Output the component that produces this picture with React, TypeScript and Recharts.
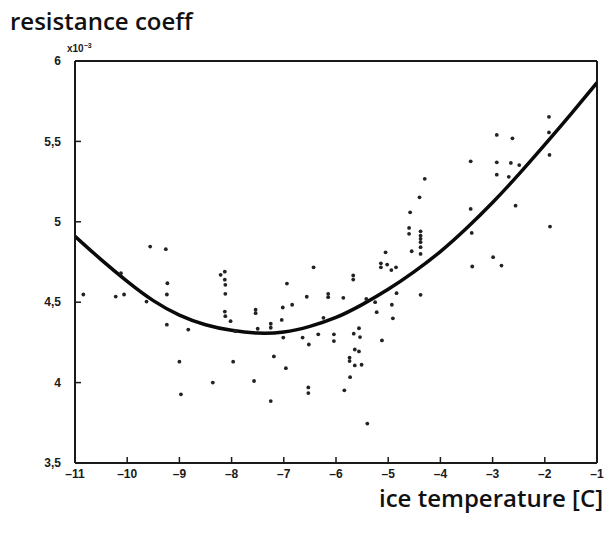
import React from "react";
import {
  ComposedChart,
  Scatter,
  Line,
  XAxis,
  YAxis,
  ReferenceLine,
} from "recharts";

const xTicks = [-11, -10, -9, -8, -7, -6, -5, -4, -3, -2, -1];
const yTicks = [3.5, 4, 4.5, 5, 5.5, 6];

const pointX = [
  -9.56, -9.26, -10.12, -10.84, -10.22, -10.06, -9.23, -9.24, -9.63, -9.24,
  -8.83, -9.0, -8.97, -8.21, -8.13, -8.13, -8.12, -8.12, -8.13, -8.12,
  -8.02, -7.54, -7.54, -7.5, -7.25, -7.25, -7.93, -6.94, -6.84, -7.02,
  -7.04, -6.56, -7.01, -6.64, -7.19, -6.96, -7.97, -8.36, -7.57, -7.25,
  -6.53, -6.53, -6.43, -6.15, -6.15, -5.86, -5.67, -5.67, -6.24, -6.52,
  -6.34, -6.04, -6.04, -5.66, -5.56, -5.54, -5.64, -5.56, -5.74, -5.74,
  -5.64, -5.51, -5.73, -5.84, -5.4, -5.12, -5.22, -5.25, -5.42, -4.93,
  -4.91, -4.84, -5.05, -5.14, -5.14, -5.02, -4.94, -4.85, -3.42, -4.3,
  -4.4, -4.58, -4.6, -4.6, -4.38, -4.38, -4.38, -4.38, -4.38, -4.38,
  -4.55, -3.42, -3.4, -3.39, -4.38, -1.92, -1.92, -1.91, -1.9, -2.92,
  -2.62, -2.92, -2.65, -2.49, -2.92, -2.69, -2.56, -2.99, -2.83,
];
const pointY = [
  4.846, 4.83, 4.68, 4.548, 4.535, 4.548, 4.618, 4.548, 4.504, 4.36,
  4.33, 4.13, 3.927, 4.67, 4.69, 4.64, 4.608, 4.552, 4.442, 4.413,
  4.382, 4.453, 4.432, 4.335, 4.366, 4.341, 4.32, 4.616, 4.484, 4.467,
  4.39, 4.534, 4.28, 4.28, 4.163, 4.09, 4.13, 4.0, 4.01, 3.885,
  3.97, 3.935, 4.717, 4.552, 4.531, 4.527, 4.666, 4.641, 4.403, 4.237,
  4.3, 4.3, 4.258, 4.304, 4.338, 4.283, 4.206, 4.194, 4.155, 4.134,
  4.107, 4.111, 4.034, 3.952, 3.745, 4.262, 4.438, 4.5, 4.52, 4.484,
  4.4, 4.556, 4.81, 4.742, 4.717, 4.734, 4.7, 4.717, 5.376, 5.267,
  5.152, 5.059, 4.962, 4.925, 4.941, 4.914, 4.894, 4.873, 4.842, 4.8,
  4.817, 5.08, 4.931, 4.722, 4.546, 5.653, 5.556, 5.416, 4.97, 5.54,
  5.519, 5.37, 5.366, 5.353, 5.293, 5.28, 5.1, 4.78, 4.728,
];

const curveX = [
  -11, -10.5, -10, -9.5, -9, -8.5, -8, -7.5, -7, -6.5, -6, -5.5, -5, -4.5, -4,
  -3.5, -3, -2.5, -2, -1.5, -1,
];
const curveY = [
  4.91, 4.765, 4.63, 4.51, 4.42, 4.36, 4.325, 4.308, 4.315, 4.35, 4.405, 4.485,
  4.58, 4.69, 4.815, 4.96, 5.12, 5.295, 5.48, 5.67, 5.865,
];

const points = pointX.map((x, i) => ({ x, y: pointY[i] }));
const curve = curveX.map((x, i) => ({ x, y: curveY[i] }));

const tickFont = {
  fontFamily: "'Liberation Sans Narrow', 'Liberation Sans', sans-serif",
  fontWeight: 700,
  fontSize: 12,
  fill: "#1a1a1a",
};

const Dot = (props: any) => {
  const { cx, cy } = props;
  if (cx == null || cy == null) return null;
  return <circle cx={cx} cy={cy} r={1.9} fill="#222" />;
};

export default function App() {
  return (
    <div
      style={{
        position: "relative",
        width: 615,
        height: 533,
        margin: -8,
        background: "#fff",
      }}
    >
      <div
        style={{
          position: "absolute",
          left: 10,
          top: 9,
          fontFamily: "'Open Sans', sans-serif",
          fontWeight: 600,
          fontSize: 24,
          color: "#111",
          whiteSpace: "nowrap",
          lineHeight: 1,
        }}
      >
        resistance coeff
      </div>
      <div
        style={{
          position: "absolute",
          left: 67,
          top: 42,
          fontFamily: "'Liberation Sans Narrow', 'Liberation Sans', sans-serif",
          fontWeight: 700,
          fontSize: 10,
          color: "#1a1a1a",
          whiteSpace: "nowrap",
          lineHeight: 1,
        }}
      >
        x10<sup style={{ fontSize: 7 }}>{"\u2212"}3</sup>
      </div>
      <div
        style={{
          position: "absolute",
          left: 379,
          top: 486,
          fontFamily: "'Open Sans', sans-serif",
          fontWeight: 600,
          fontSize: 24,
          color: "#111",
          whiteSpace: "nowrap",
          lineHeight: 1,
        }}
      >
        ice temperature [C]
      </div>
      <div style={{ position: "absolute", left: 0, top: 0 }}>
        <ComposedChart
          width={615}
          height={533}
          margin={{ top: 61, right: 18, bottom: 40, left: 45 }}
        >
          <XAxis
            dataKey="x"
            type="number"
            domain={[-11, -1]}
            ticks={xTicks}
            interval={0}
            allowDataOverflow
            tickFormatter={(v: number) => "\u2013" + Math.abs(v)}
            tick={tickFont}
            tickSize={-6}
            tickMargin={12}
            height={30}
            axisLine={{ stroke: "#1a1a1a", strokeWidth: 2 }}
            tickLine={{ stroke: "#1a1a1a", strokeWidth: 1.5 }}
          />
          <YAxis
            dataKey="y"
            type="number"
            domain={[3.5, 6]}
            ticks={yTicks}
            interval={0}
            allowDataOverflow
            tickFormatter={(v: number) => String(v).replace(".", ",")}
            tick={tickFont}
            tickSize={-6}
            tickMargin={20}
            width={30}
            axisLine={{ stroke: "#1a1a1a", strokeWidth: 2 }}
            tickLine={{ stroke: "#1a1a1a", strokeWidth: 1.5 }}
          />
          <ReferenceLine y={6} stroke="#1a1a1a" strokeWidth={2} />
          <ReferenceLine x={-1} stroke="#1a1a1a" strokeWidth={2} />
          <Scatter
            data={points}
            dataKey="y"
            shape={Dot}
            isAnimationActive={false}
          />
          <Line
            data={curve}
            dataKey="y"
            type="natural"
            stroke="#0a0a0a"
            strokeWidth={3.5}
            dot={false}
            activeDot={false}
            isAnimationActive={false}
          />
        </ComposedChart>
      </div>
    </div>
  );
}
